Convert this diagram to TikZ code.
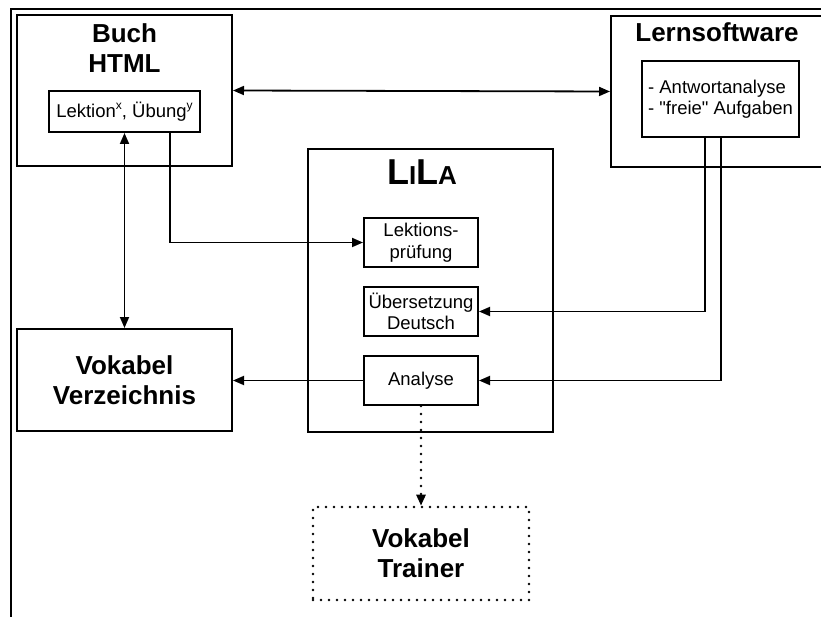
\documentclass[tikz,border=0pt]{standalone}
\usepackage{fontspec}
\setmainfont{Liberation Sans}[Ligatures=TeXOff]
\usetikzlibrary{arrows.meta}
\newcommand\hsup[1]{\raisebox{0.42em}{\fontsize{12}{12}\selectfont #1}}
\begin{document}
\begin{tikzpicture}[x=1pt,y=-1pt,
  box/.style={draw,line width=2pt,inner sep=0pt,align=center},
  small/.style={font=\fontsize{18.5}{21.5}\selectfont},
  big/.style={font=\fontsize{26}{30}\selectfont\bfseries},
  head/.style={big,anchor=base,inner sep=0pt},
  arr/.style={line width=1.8pt,-{Triangle[length=11pt,width=9pt]}},
  darr/.style={line width=1.8pt,{Triangle[length=11pt,width=9pt]}-{Triangle[length=11pt,width=9pt]}},
  dots/.style={line width=2.6pt,dash pattern=on 0pt off 8pt,line cap=round}]
\useasboundingbox (0,0) rectangle (821,617);
\clip (0,0) rectangle (821,617);
% frame
\draw[line width=2.4pt] (11,620) -- (11,9) -- (825,9);
% Buch HTML
\node[box,minimum width=215pt,minimum height=151pt] (buch) at (124.5,90.5) {};
\node[head] (buchA) at (124.5,43) {Buch};
\node[head] (buchB) at (124.5,73) {HTML};
\node[box,small,minimum width=151pt,minimum height=41pt] (lek) at (124.5,111.5) {Lektion\hsup{x}, Übung\hsup{y}};
% Lernsoftware
\node[box,minimum width=220pt,minimum height=151pt,anchor=north west] (lern) at (610,15) {};
\node[head] (lernT) at (717,42) {Lernsoftware};
\node[box,small,minimum width=157pt,minimum height=76pt,align=left] (ana) at (720.5,99) {- Antwortanalyse\\- "freie" Aufgaben};
% LiLa
\node[box,minimum width=245pt,minimum height=283pt,anchor=north west] (lila) at (307,148) {};
\node[anchor=base,inner sep=0pt,font=\bfseries] (lilaT) at (422,185) {\fontsize{36}{36}\selectfont L\fontsize{26}{26}\selectfont I\fontsize{36}{36}\selectfont L\fontsize{26}{26}\selectfont A};
\node[box,small,minimum width=114pt,minimum height=49pt] (lp) at (421,242.5) {Lektions-\\prüfung};
\node[box,small,minimum width=114pt,minimum height=49pt] (ub) at (421,311.5) {Übersetzung\\Deutsch};
\node[box,small,minimum width=114pt,minimum height=49pt] (an) at (421,380.5) {Analyse};
% Vokabel Verzeichnis
\node[box,big,minimum width=215pt,minimum height=102pt] (vv) at (124.5,380) {Vokabel\\Verzeichnis};
% Vokabel Trainer
\node[box,big,dots,minimum width=216pt,minimum height=93pt] (vt) at (421,553.5) {Vokabel\\Trainer};
% connectors
\draw[darr] (buch.east) -- (lern.west);
\draw[darr] (lek.south) -- (vv.north);
\draw[arr] (lek.south -| 170,0) |- (lp.west);
\draw[arr] (ana.south -| 705,0) |- (ub.east);
\draw[arr] (ana.south -| 721,0) |- (an.east);
\draw[arr] (an.west) -- (vv.east |- an.west);
\draw[dots,-{Triangle[length=11pt,width=9pt]}] (an.south) -- (vt.north);
\end{tikzpicture}
\end{document}
